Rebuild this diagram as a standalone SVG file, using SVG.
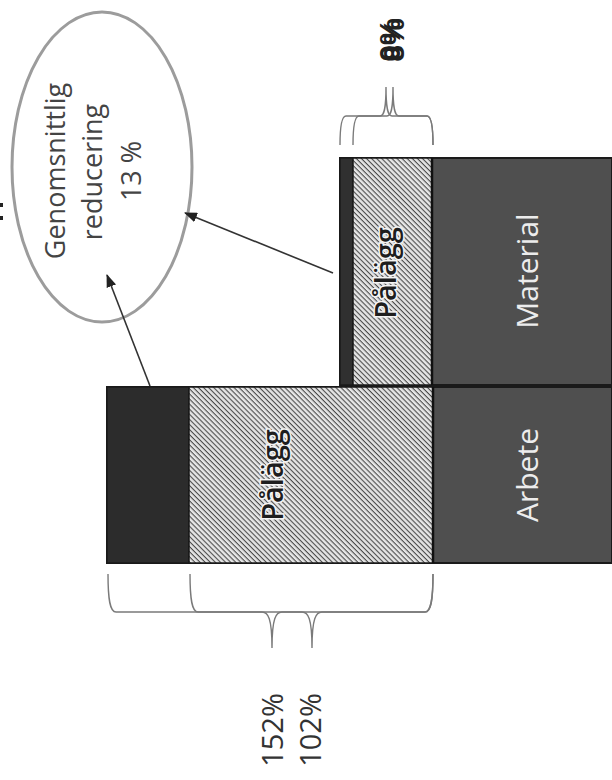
<svg xmlns="http://www.w3.org/2000/svg" width="612" height="780" viewBox="0 0 612 780">
  <style>
    .lbl { font-family: "Open Sans", "Liberation Sans", sans-serif; text-anchor: middle; }
    .ell { font-size: 27px; fill: #444444; }
    .pal { font-size: 29px; font-weight: 600; fill: #1e1e1e; stroke: #f4f4f4; stroke-width: 3; paint-order: stroke; }
    .dark { font-size: 30px; fill: #ececec; }
    .pct { font-size: 29px; fill: #333; }
    .small { font-family: "Liberation Sans", sans-serif; font-size: 30px; font-weight: bold; fill: #222; text-anchor: middle; }
    .brace { fill: none; stroke: #7a7a7a; stroke-width: 1.4; }
    .arrow { stroke: #333; stroke-width: 1.6; fill: none; }
  </style>
  <defs>
    <pattern id="hatch" patternUnits="userSpaceOnUse" width="3.6" height="3.6" patternTransform="rotate(45)">
      <rect width="3.6" height="3.6" fill="#e6e6e6"/>
      <rect width="3.6" height="1.1" fill="#4a4a4a"/>
    </pattern>
    <marker id="ah" markerWidth="13" markerHeight="10" refX="12" refY="5" orient="auto" markerUnits="userSpaceOnUse">
      <path d="M0,0 L13,5 L0,10 Z" fill="#222"/>
    </marker>
  </defs>
  <rect width="612" height="780" fill="#ffffff"/>

  <rect x="0" y="203" width="3" height="4" fill="#222"/>
  <rect x="0" y="216" width="3" height="4" fill="#222"/>

  <g id="ellipse">
    <ellipse cx="102" cy="167" rx="90" ry="155" fill="#ffffff" stroke="#9c9c9c" stroke-width="3"/>
    <text class="lbl ell" transform="translate(65,171) rotate(-90)">Genomsnittlig</text>
    <text class="lbl ell" transform="translate(102,172) rotate(-90)">reducering</text>
    <text class="lbl ell" transform="translate(141,171) rotate(-90)">13 %</text>
  </g>

  <g id="bar-material">
    <rect x="340" y="158" width="272" height="227" fill="#4f4f4f" stroke="#1a1a1a" stroke-width="2"/>
    <rect x="340" y="158" width="13" height="227" fill="#303030" stroke="#1a1a1a" stroke-width="1.5"/>
    <rect x="353" y="158" width="79" height="227" fill="url(#hatch)" stroke="#1a1a1a" stroke-width="1.5"/>
    <line x1="432" y1="158" x2="432" y2="385" stroke="#111" stroke-width="2.5"/>
    <text class="lbl pal" transform="translate(396,273) rotate(-90)">Pålägg</text>
    <text class="lbl dark" transform="translate(538,271) rotate(-90)">Material</text>
  </g>

  <g id="bar-arbete">
    <rect x="107" y="387" width="505" height="176" fill="#4f4f4f" stroke="#1a1a1a" stroke-width="2"/>
    <rect x="107" y="387" width="82" height="176" fill="#2c2c2c" stroke="#1a1a1a" stroke-width="1.5"/>
    <rect x="189" y="387" width="244" height="176" fill="url(#hatch)" stroke="#1a1a1a" stroke-width="1.5"/>
    <line x1="433" y1="387" x2="433" y2="563" stroke="#111" stroke-width="2.5"/>
    <text class="lbl pal" transform="translate(283,475) rotate(-90)">Pålägg</text>
    <text class="lbl dark" transform="translate(538,475) rotate(-90)">Arbete</text>
  </g>

  <g id="braces">
    <path class="brace" d="M108,574 C108,600 110,612 116,612 L262,612 C268,612 272,618 272,648 C272,618 276,612 282,612 L425,612 C431,612 433,600 433,574"/>
    <path class="brace" d="M190,574 C190,600 192,612 198,612 L302,612 C308,612 312,618 312,648 C312,618 316,612 322,612 L425,612 C431,612 433,600 433,574"/>
    <path class="brace" d="M340,145 C340,125 342,116 346,116 L380,116 C384,116 386,110 386,87 C386,110 388,116 392,116 L427,116 C431,116 433,125 433,145"/>
    <path class="brace" d="M353,145 C353,125 355,116 359,116 L387,116 C391,116 393,110 393,87 C393,110 395,116 399,116 L427,116 C431,116 433,125 433,145"/>
  </g>

  <g id="labels">
    <text class="lbl pct" transform="translate(283,730) rotate(-90)">152%</text>
    <text class="lbl pct" transform="translate(321,730) rotate(-90)">102%</text>
    <text class="small" transform="translate(404,40) rotate(-90)">8%</text>
    <text class="small" transform="translate(400,40) rotate(-90)">0%</text>
  </g>

  <g id="connectors">
    <line class="arrow" x1="150" y1="386" x2="107" y2="275" marker-end="url(#ah)"/>
    <line class="arrow" x1="333" y1="273" x2="185" y2="213" marker-end="url(#ah)"/>
  </g>
</svg>
